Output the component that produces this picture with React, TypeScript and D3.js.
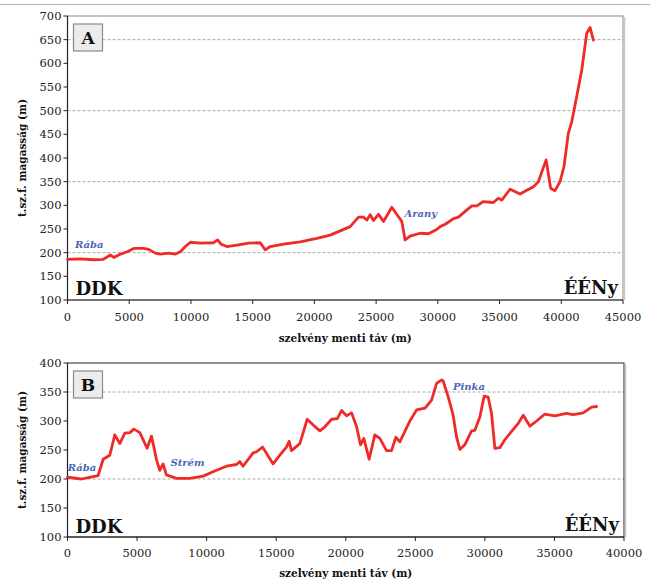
import React from "react";
import * as d3 from "d3";

// ---- Data ----
const topDist = [0, 1050, 2100, 2900, 3480, 3750, 4300, 4830, 5370, 6170, 6570, 7120, 7520, 8200, 8740, 9140, 9550, 9950, 10760, 11840, 12160, 12430, 12920, 13730, 14670, 15610, 16020, 16420, 17500, 18850, 20200, 21280, 22090, 22900, 23570, 23970, 24250, 24520, 24790, 25190, 25600, 26270, 26810, 27080, 27350, 27750, 28560, 29240, 29910, 30190, 30600, 31270, 31670, 32070, 32750, 33160, 33690, 34500, 34900, 35180, 35850, 36660, 37200, 37740, 38140, 38770, 39140, 39490, 39900, 40220, 40570, 40850, 41250, 41660, 42060, 42330, 42600];
const topElev = [186, 187, 185, 186, 195, 190, 197, 202, 209, 209, 207, 199, 197, 199, 197, 202, 213, 222, 220, 221, 227, 218, 213, 216, 220, 221, 206, 213, 218, 223, 230, 237, 246, 255, 275, 275, 269, 280, 268, 281, 266, 296, 276, 266, 227, 235, 241, 240, 249, 255, 260, 272, 275, 284, 299, 299, 308, 306, 315, 311, 334, 324, 332, 339, 350, 396, 336, 331, 350, 382, 452, 477, 530, 586, 663, 676, 649];

const botDist = [0, 1000, 1600, 2200, 2560, 3040, 3400, 3760, 4120, 4480, 4770, 5200, 5720, 6040, 6400, 6630, 6870, 7110, 7830, 8790, 9750, 10710, 11430, 12150, 12390, 12620, 13340, 13590, 14020, 14780, 15260, 15740, 15930, 16100, 16700, 17230, 17660, 18140, 18500, 18980, 19390, 19700, 20060, 20420, 20780, 21060, 21300, 21680, 22090, 22450, 22930, 23290, 23600, 23890, 24250, 24610, 25090, 25690, 26170, 26530, 26890, 27000, 27360, 27720, 27960, 28200, 28560, 29040, 29280, 29640, 29950, 30240, 30480, 30720, 31080, 31440, 31920, 32400, 32760, 33240, 33720, 34310, 35030, 35870, 36350, 37070, 37670, 38030];
const botElev = [203, 200, 203, 206, 234, 241, 276, 261, 279, 280, 286, 280, 253, 274, 233, 215, 226, 207, 201, 201, 205, 215, 222, 225, 230, 222, 245, 247, 255, 226, 241, 255, 265, 249, 261, 303, 293, 283, 290, 303, 304, 318, 309, 314, 290, 259, 270, 234, 276, 270, 249, 249, 272, 264, 282, 300, 319, 322, 336, 365, 371, 369, 342, 310, 273, 251, 259, 283, 284, 307, 343, 341, 313, 253, 254, 268, 282, 296, 310, 291, 300, 312, 309, 313, 311, 314, 324, 325];

const topXTicks = [0, 5000, 10000, 15000, 20000, 25000, 30000, 35000, 40000, 45000];
const topYTicks = [100, 150, 200, 250, 300, 350, 400, 450, 500, 550, 600, 650, 700];
const topGrid = [200, 350, 500, 650];
const botXTicks = [0, 5000, 10000, 15000, 20000, 25000, 30000, 35000, 40000];
const botYTicks = [100, 150, 200, 250, 300, 350, 400];
const botGrid = [200, 350];

const topRivers = [
  { name: "Rába", d: 600, v: 244 },
  { name: "Arany", d: 27300, v: 213 },
];
const botRivers = [
  { name: "Rába", d: 20, v: 467 },
  { name: "Strém", d: 7400, v: 462 },
  { name: "Pinka", d: 27700, v: 386 },
];

const yTitle = "t.sz.f. magasság (m)";
const xTitle = "szelvény menti táv (m)";

const serif = "'DejaVu Serif', serif";

type PanelProps = {
  left: number; right: number; top: number; bottom: number;
  xMax: number; yMin: number; yMax: number;
  xTicks: number[]; yTicks: number[]; grid: number[];
  dist: number[]; elev: number[];
  letter: string;
  rivers: { name: string; d: number; v: number }[];
  frameColor: string;
  xLabelY: number; xTitleY: number;
  ddkY: number; eenyY: number;
};

function Panel(p: PanelProps) {
  const x = d3.scaleLinear().domain([0, p.xMax]).range([p.left, p.right]);
  const y = d3.scaleLinear().domain([p.yMin, p.yMax]).range([p.bottom, p.top]);
  const line = d3
    .line<number>()
    .x((_, i) => x(p.dist[i]))
    .y((v) => y(v))
    .curve(d3.curveLinear);
  const pathD = line(p.elev) || "";
  const midY = (p.top + p.bottom) / 2;
  const midX = (p.left + p.right) / 2;
  return (
    <g style={{ fontFamily: serif }}>
      {p.grid.map((g) => (
        <line key={"g" + g} x1={p.left} x2={p.right} y1={y(g)} y2={y(g)} stroke="#a8a8a8" strokeWidth={1} strokeDasharray="3,2" />
      ))}
      <rect x={p.left} y={p.top} width={p.right - p.left} height={p.bottom - p.top} fill="none" stroke={p.frameColor} strokeWidth={1} />
      <line x1={p.right + 1.5} x2={p.right + 1.5} y1={p.top + 1} y2={p.bottom} stroke="#c8c8c8" strokeWidth={1.5} />
      <line x1={p.left} x2={p.left} y1={p.top} y2={p.bottom} stroke="#222" strokeWidth={1.2} />
      <line x1={p.left} x2={p.right} y1={p.bottom} y2={p.bottom} stroke="#222" strokeWidth={1.2} />
      {p.yTicks.map((t) => (
        <g key={"yt" + t}>
          <line x1={p.left - 4} x2={p.left} y1={y(t)} y2={y(t)} stroke="#222" />
          <text x={p.left - 6} y={y(t)} dy="0.35em" textAnchor="end" fontSize={11.5} fill="#222">{t}</text>
        </g>
      ))}
      {p.xTicks.map((t) => (
        <g key={"xt" + t}>
          <line x1={x(t)} x2={x(t)} y1={p.bottom} y2={p.bottom + 4} stroke="#222" />
          <text x={x(t)} y={p.xLabelY} dy="0.35em" textAnchor="middle" fontSize={11.5} fill="#222">{t}</text>
        </g>
      ))}
      <text x={midX} y={p.xTitleY} dy="0.35em" textAnchor="middle" fontSize={10.5} fontWeight="bold" fill="#111">{xTitle}</text>
      <text transform={`translate(22,${midY}) rotate(-90)`} dy="0.35em" textAnchor="middle" fontSize={10.5} fontWeight="bold" fill="#111">{yTitle}</text>
      <path d={pathD} fill="none" stroke="#ee2b27" strokeWidth={2.8} strokeLinejoin="round" strokeLinecap="round" />
      <rect x={p.left + 6} y={p.top + 8} width={29} height={27} fill="#ececec" stroke="#8a8a8a" strokeWidth={1.2} />
      <text x={p.left + 20.5} y={p.top + 22} dy="0.35em" textAnchor="middle" fontSize={17} fontWeight="bold" fill="#111">{p.letter}</text>
      {p.rivers.map((r) => (
        <text key={r.name} x={x(r.d)} y={r.v} dy="0.35em" fontSize={10} fontWeight="bold" fontStyle="italic" fill="#4a66b8">{r.name}</text>
      ))}
      <text x={p.left + 8} y={p.ddkY} fontSize={18} fontWeight="bold" fill="#111">DDK</text>
      <text x={p.right - 5} y={p.eenyY} textAnchor="end" fontSize={18} fontWeight="bold" fill="#111">ÉÉNy</text>
    </g>
  );
}

export default function App() {
  return (
    <svg width={653} height={583} style={{ position: "absolute", left: 0, top: 0, background: "#fff" }}>
      <rect x={0} y={0} width={653} height={583} fill="#fff" />
      <line x1={0} x2={650} y1={4.5} y2={4.5} stroke="#b0b0b0" strokeWidth={1} />
      <Panel
        left={67.5} right={623} top={16} bottom={300}
        xMax={45000} yMin={100} yMax={700}
        xTicks={topXTicks} yTicks={topYTicks} grid={topGrid}
        dist={topDist} elev={topElev} letter="A" rivers={topRivers}
        frameColor="#888" xLabelY={317} xTitleY={338} ddkY={295} eenyY={294}
      />
      <Panel
        left={67.5} right={624} top={363} bottom={537}
        xMax={40000} yMin={100} yMax={400}
        xTicks={botXTicks} yTicks={botYTicks} grid={botGrid}
        dist={botDist} elev={botElev} letter="B" rivers={botRivers}
        frameColor="#222" xLabelY={553} xTitleY={573} ddkY={533} eenyY={531}
      />
    </svg>
  );
}
